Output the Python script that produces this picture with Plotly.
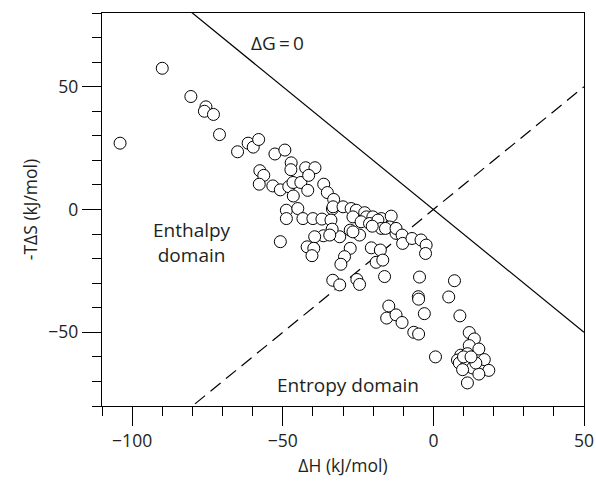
import plotly.graph_objects as go

# Data points: ΔH (kJ/mol) and -TΔS (kJ/mol)
dH = [
    -104, -90, -80.5, -75.5, -76, -73, -71, -65, -61.5, -59.8, -58, -52.6, -49.3,
    -47.2, -47.3, -57.6, -56.3, -57.8, -53.3, -50.8, -48, -46.6, -44, -46.5,
    -42.4, -39.3, -41.4, -41.7, -36.4, -35.2, -33.1,
    -48.8, -45, -33.5, -48.8, -43.3, -40, -37, -34,
    -33.3, -30, -27.3, -25.6, -22.8, -22.2, -20.1, -17.3, -14,
    -26.7, -24, -21.2, -18.4, -17.3, -14.6, -20.3,
    -27.6, -31.1, -33.6, -36.5, -34.4, -39.4, -41.9, -39.7, -40.3, -50.8,
    -24.5, -26.7,
    -20.6, -17.6, -27.6, -29.5, -30.7, -19, -16.8, -16.2, -33.4, -31.1, -25.4, -24.5,
    -15.9, -12.4, -12.4, -10.4, -10.2, -7.1, -4.1, -2.4, -2.6,
    -4.6, -5, -4.9, -3, -6.5, -4.9, -14.8, -15.5, -12.4, -10.4, 0.7, 7, 5.1, 8.8,
    11.9, 13.6, 11.9, 15.1, 9.1, 11.3, 8, 8.6, 10.8, 13, 16.9, 18.4, 15.1, 11.3,
    14.1, 9.7, 10, 12.5,
]
mTdS = [
    27, 57.5, 46, 41.8, 40, 38.7, 30.5, 23.5, 27, 25.4, 28.5, 22.6, 24.2,
    19, 16.2, 15.8, 13.9, 10.3, 9.6, 8, 9.3, 11, 11, 5.5,
    17, 17, 13.9, 7.8, 10.3, 6.9, 4.1,
    -0.3, 0.4, 0.2, -3.7, -3.7, -3.7, -3.9, -4.3,
    1.1, 1.1, 0.4, -0.3, -1.3, -3, -3, -3.7, -2.7,
    -3, -5, -5.7, -4.3, -7.7, -7.1, -6.8,
    -8.4, -11.1, -8, -10.7, -10.4, -11.1, -15.2, -15.8, -18.8, -13.1,
    -10.4, -9.1,
    -15.6, -16.5, -15.8, -19.2, -22.3, -21.5, -20.6, -27.3, -28.8, -30.7, -28.5, -30.5,
    -7.7, -9.7, -7.7, -10.4, -13.8, -11.8, -12.4, -14.5, -17.9,
    -27.5, -35.5, -36.5, -42.4, -50, -50.7, -39.3, -44.2, -42.9, -46, -60, -29, -35.6, -43.3,
    -50.1, -52.7, -55.4, -56.8, -59.3, -58.7, -61.3, -62.5, -64, -64.5, -61.1, -65.5, -67, -70.6,
    -62.5, -65.2, -60, -60,
]

x_range = [-110, 50]
y_range = [-80, 80]
line_x = [-110, 50]

FONT = "Open Sans"
FS = 17.5
FS_ANN = 19
TXT = "#231f20"

fig = go.Figure()

# ΔG = 0 line: -TΔS = -ΔH
fig.add_trace(go.Scatter(
    x=line_x, y=[-v for v in line_x], mode="lines",
    line=dict(color="black", width=1.2), showlegend=False, hoverinfo="skip"))
# dashed line: -TΔS = ΔH
fig.add_trace(go.Scatter(
    x=line_x, y=[v for v in line_x], mode="lines",
    line=dict(color="black", width=1.2, dash="13px,7px"), showlegend=False, hoverinfo="skip"))

fig.add_trace(go.Scatter(
    x=dH, y=mTdS, mode="markers",
    marker=dict(size=12, color="white", line=dict(color="black", width=1)),
    showlegend=False, cliponaxis=True))

axis_common = dict(
    showgrid=False, zeroline=False, showline=True, mirror=True,
    linecolor="black", linewidth=1.3, automargin=False,
    ticks="outside", ticklen=19, tickwidth=1.2, tickcolor="black",
    tickfont=dict(family=FONT, size=FS, color=TXT),
    ticklabeloverflow="allow",
)

fig.update_xaxes(
    range=x_range, tick0=0, dtick=50,
    minor=dict(dtick=10, tick0=0, ticks="outside", ticklen=9, tickwidth=1.2, tickcolor="black"),
    title=dict(text="ΔH (kJ/mol)", font=dict(family=FONT, size=FS, color=TXT), standoff=8),
    **axis_common)
fig.update_yaxes(
    range=y_range, tick0=0, dtick=50,
    minor=dict(dtick=10, tick0=0, ticks="outside", ticklen=9, tickwidth=1.2, tickcolor="black"),
    title=dict(text="-TΔS (kJ/mol)", font=dict(family=FONT, size=FS, color=TXT), standoff=6),
    **axis_common)

ann_font = dict(family=FONT, size=FS_ANN, color=TXT)
fig.add_annotation(x=-51.8, y=67.9, text="ΔG\u2009=\u20090", showarrow=False, font=ann_font)
fig.add_annotation(x=-80, y=-13.3, text="Enthalpy<br>domain", showarrow=False, font=ann_font)
fig.add_annotation(x=-28.3, y=-71.3, text="Entropy domain", showarrow=False, font=ann_font)

fig.update_layout(
    width=596, height=481,
    margin=dict(l=102, r=12, t=13, b=75),
    plot_bgcolor="white", paper_bgcolor="white",
    font=dict(family=FONT, size=FS, color=TXT),
)

# remove the default 8px body margin so the figure fills the window exactly
fig.write_html(
    "out.html",
    config={"displayModeBar": False},
    post_script="document.body.style.margin='0';document.body.style.overflow='hidden';",
)
